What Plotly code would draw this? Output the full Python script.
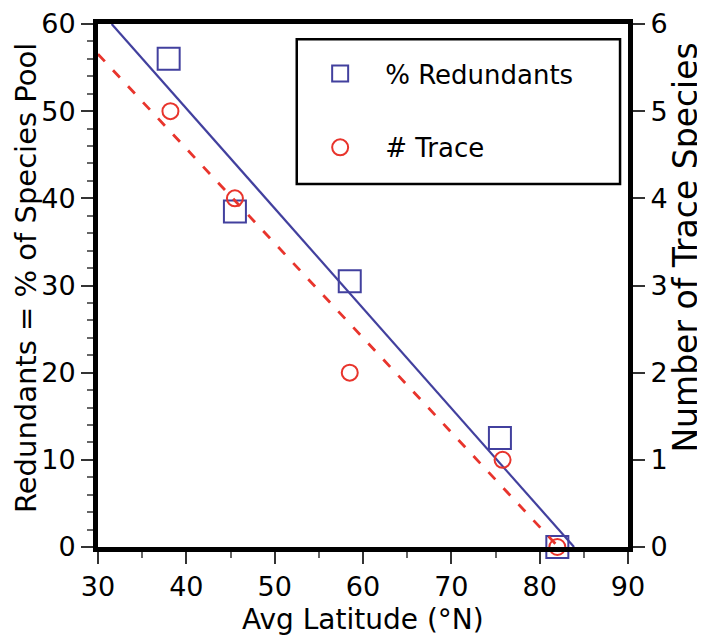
import numpy as np
import plotly.graph_objects as go

# Data
latitude = [38, 45.5, 58.5, 75.5, 82]
redundants_pct = [56, 38.5, 30.5, 12.5, 0]
trace_latitude = [38.2, 45.5, 58.5, 75.8, 82]
trace_count = [5, 4, 2, 1, 0]

x_range = [30, 90]
y_left_range = [0, 60]
y_right_range = [0, 6]

x_title = "Avg Latitude (°N)"
y_left_title = "Redundants = % of Species Pool"
y_right_title = "Number of Trace Species"

FONT = "DejaVu Sans, Liberation Sans, Arial, sans-serif"
BLUE = "#42409e"
RED = "#e8342c"

# Least-squares fit lines as drawn in the figure
b1, a1 = np.polyfit(latitude, redundants_pct, 1)
b2, a2 = np.polyfit(trace_latitude, trace_count, 1)
blue_x = [(y_left_range[1] - a1) / b1, (0 - a1) / b1]
blue_y = [a1 + b1 * v for v in blue_x]
red_x = [x_range[0], -a2 / b2]
red_y = [a2 + b2 * v for v in red_x]

fig = go.Figure()
fig.add_trace(go.Scatter(x=blue_x, y=blue_y, mode="lines",
                         line=dict(color=BLUE, width=2.2), showlegend=False,
                         cliponaxis=False))
fig.add_trace(go.Scatter(x=red_x, y=red_y, mode="lines", yaxis="y2",
                         line=dict(color=RED, width=2.8, dash="10px,12px"),
                         showlegend=False))
fig.add_trace(go.Scatter(x=latitude, y=redundants_pct, mode="markers",
                         name="% Redundants", legendgroup="a",
                         marker=dict(symbol="square-open", size=22,
                                     color=BLUE, line=dict(width=2)),
                         cliponaxis=False))
fig.add_trace(go.Scatter(x=trace_latitude, y=trace_count, mode="markers",
                         name="# Trace", legendgroup="b", yaxis="y2",
                         marker=dict(symbol="circle-open", size=16,
                                     color=RED, line=dict(width=2)),
                         cliponaxis=False))

axis_common = dict(
    showgrid=False, zeroline=False, showline=True, linecolor="black",
    linewidth=5, ticks="outside", ticklen=12, tickwidth=1.5, automargin=False,
    ticklabeloverflow="allow",
    tickcolor="#333", tickfont=dict(size=27, color="black", family=FONT),
)

fig.update_layout(
    width=705, height=635,
    margin=dict(l=90, r=85, t=16, b=96, autoexpand=False),
    paper_bgcolor="white", plot_bgcolor="white",
    font=dict(family=FONT, color="black", size=26),
    xaxis=dict(range=x_range, dtick=10, mirror=True,
               minor=dict(ticks="outside", dtick=5, ticklen=6, tickcolor="#666"),
               **axis_common),
    yaxis=dict(range=y_left_range, dtick=10,
               minor=dict(ticks="outside", dtick=2, ticklen=6, tickcolor="#666"),
               **axis_common),
    yaxis2=dict(range=y_right_range, dtick=1, overlaying="y", side="right",
                **axis_common),
    legend=dict(x=0.372, y=0.95, xanchor="left", yanchor="top",
                bgcolor="rgba(0,0,0,0)", borderwidth=0, itemwidth=80,
                tracegroupgap=37, traceorder="grouped",
                font=dict(size=26, family=FONT)),
    shapes=[dict(type="rect", xref="paper", yref="paper",
                 x0=0.375, x1=0.985, y0=0.694, y1=0.971,
                 line=dict(color="black", width=2.5))],
    annotations=[
        dict(text=x_title, xref="paper", yref="paper", x=0.5, y=-0.139,
             xanchor="center", yanchor="middle", showarrow=False,
             font=dict(size=28)),
        dict(text=y_left_title, xref="paper", yref="paper", x=-0.136, y=0.514,
             xanchor="center", yanchor="middle", showarrow=False,
             textangle=-90, font=dict(size=29)),
        dict(text=y_right_title, xref="paper", yref="paper", x=1.109, y=0.572,
             xanchor="center", yanchor="middle", showarrow=False,
             textangle=-90, font=dict(size=33)),
    ],
)

fig.write_html("out.html")
